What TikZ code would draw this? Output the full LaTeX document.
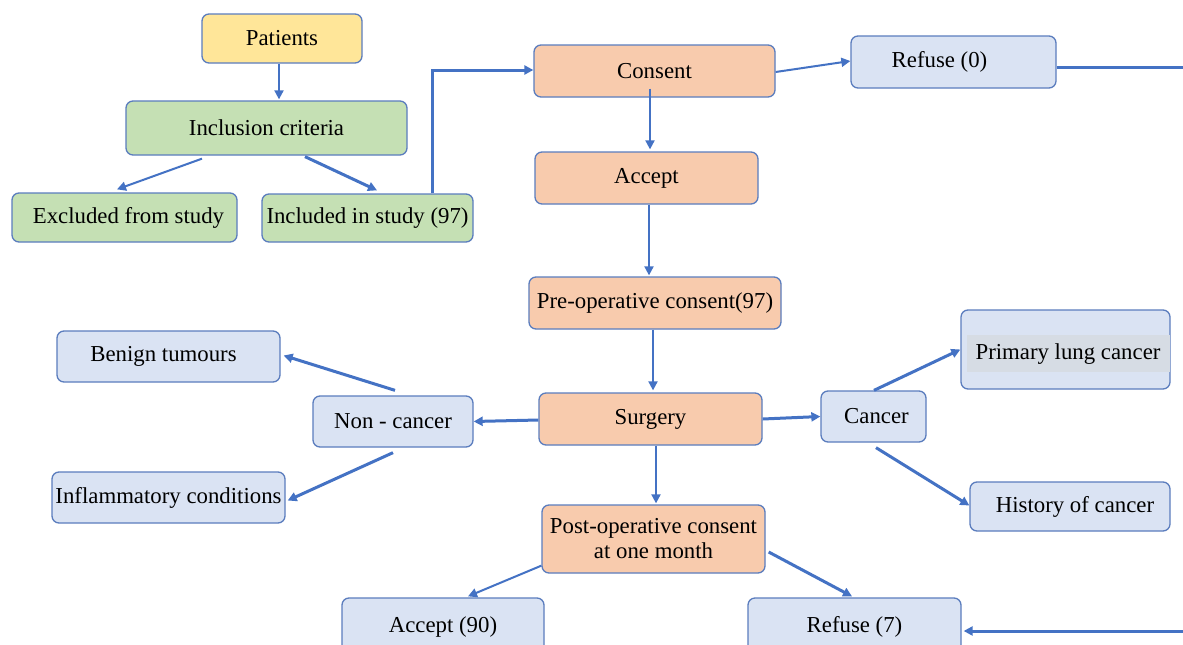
\documentclass[tikz,border=0pt]{standalone}
\usepackage{fontspec}
\setmainfont{Liberation Serif}
\usetikzlibrary{arrows.meta,calc}
\definecolor{bord}{HTML}{5B7DBE}
\definecolor{arr}{HTML}{4472C4}
\definecolor{cyel}{HTML}{FFE699}
\definecolor{cgrn}{HTML}{C5E0B4}
\definecolor{corg}{HTML}{F8CBAD}
\definecolor{cblu}{HTML}{DAE3F3}
\definecolor{cband}{HTML}{D6DCE4}
\tikzset{
  box/.style={draw=bord, line width=1.3pt, rounded corners=7pt, inner sep=0pt,
    font=\fontsize{22.8}{25}\selectfont, align=center},
  yel/.style={box, fill=cyel},
  grn/.style={box, fill=cgrn},
  org/.style={box, fill=corg},
  blu/.style={box, fill=cblu},
  con/.style={draw=arr, line width=2pt, -{Triangle[length=9pt,width=9pt]}},
  conb/.style={con, line width=3pt},
}
\begin{document}
\begin{tikzpicture}[x=1pt,y=-1pt]
\useasboundingbox (0,0) rectangle (1183,645);
\fill[white] (0,0) rectangle (1183,645);
\begin{scope}
\clip (0,0) rectangle (1183,645);
% nodes
\node[yel, minimum width=160, minimum height=49] (pat) at (282,38.5) {Patients};
\node[grn, minimum width=281, minimum height=54] (inc) at (266.5,128) {Inclusion criteria};
\node[grn, minimum width=225, minimum height=49] (exc) at (124.5,217.5) {\hspace{8pt}Excluded from study};
\node[grn, minimum width=211, minimum height=48] (incl) at (367.5,218) {Included in study (97)};
\node[org, minimum width=241, minimum height=52] (cons) at (654.5,71) {Consent};
\node[blu, minimum width=205, minimum height=52] (ref0) at (953.5,62) {Refuse (0)\hspace{28pt}};
\node[org, minimum width=223, minimum height=52] (acc) at (646.5,178) {Accept};
\node[org, minimum width=252, minimum height=52] (pre) at (655,303) {Pre-operative consent(97)};
\node[org, minimum width=223, minimum height=52] (surg) at (650.5,419) {Surgery};
\node[blu, minimum width=160, minimum height=51] (non) at (393,421.5) {Non - cancer};
\node[blu, minimum width=223, minimum height=51] (ben) at (168.5,356.5) {Benign tumours\hspace{10pt}};
\node[blu, minimum width=233, minimum height=51] (inf) at (168.5,497.5) {Inflammatory conditions};
\node[blu, minimum width=105, minimum height=51] (canc) at (873.5,416.5) {\hspace{6pt}Cancer};
\node[blu, minimum width=209, minimum height=79] (prim) at (1065.5,349.5) {};
\fill[cband] (967,335) rectangle (1170,372);
\node[font=\fontsize{22.8}{25}\selectfont, inner sep=0pt] (primt) at (1068,354) {Primary lung cancer};
\node[blu, minimum width=200, minimum height=49] (hist) at (1070,506.5) {\hspace{10pt}History of cancer};
\node[org, minimum width=223, minimum height=68] (post) at (653.5,539) {Post-operative consent\\at one month};
\node[blu, minimum width=202, minimum height=58] (acc90) at (443,627) {Accept (90)};
\node[blu, minimum width=213, minimum height=58] (ref7) at (854.5,627) {Refuse (7)};
\coordinate (outA) at (1190,67);
\coordinate (outB) at (1190,631);
% connectors
\draw[con] ([xshift=-3]pat.south) -- ([xshift=12.5,yshift=1]inc.north);
\draw[con] ([xshift=-64.5,yshift=-3]inc.south) -- ([xshift=-7.5,yshift=3]exc.north);
\draw[conb] ([xshift=38.5,yshift=-1]inc.south) -- ([xshift=9.5,yshift=3]incl.north);
\draw[conb] ([xshift=64.5]incl.north) |- ([yshift=1]cons.west);
\draw[con] ([yshift=-1]cons.east) -- ([yshift=1]ref0.west);
\draw[conb, -] ([yshift=-5]ref0.east) -- (outA);
\draw[con] ([xshift=-4.5,yshift=9]cons.south) -- ([xshift=3.5,yshift=2]acc.north);
\draw[con] ([xshift=2.5]acc.south) -- ([xshift=-6,yshift=1]pre.north);
\draw[con] ([xshift=-2]pre.south) -- ([xshift=2.5,yshift=2]surg.north);
\draw[conb] ([yshift=-1]surg.west) -- (non.east);
\draw[conb] (surg.east) -- (canc.west);
\draw[conb] ([xshift=2,yshift=5]non.north) -- ([xshift=3,yshift=1]ben.east);
\draw[conb] ([yshift=-5]non.south) -- ([xshift=2,yshift=-3]inf.east);
\draw[conb] ([xshift=0.5]canc.north) -- (prim.west);
\draw[conb] ([xshift=2.5,yshift=-5]canc.south) -- ([yshift=1]hist.west);
\draw[con] ([xshift=5.5]surg.south) -- ([xshift=2.5,yshift=1]post.north);
\draw[con] ([yshift=8]post.south west) -- ([xshift=25,yshift=1]acc90.north);
\draw[conb] ([xshift=3,yshift=-13]post.east) -- ([xshift=-2.5,yshift=1]ref7.north);
\draw[conb] (outB) -- ([xshift=2,yshift=-4]ref7.east);
\end{scope}
\end{tikzpicture}
\end{document}
